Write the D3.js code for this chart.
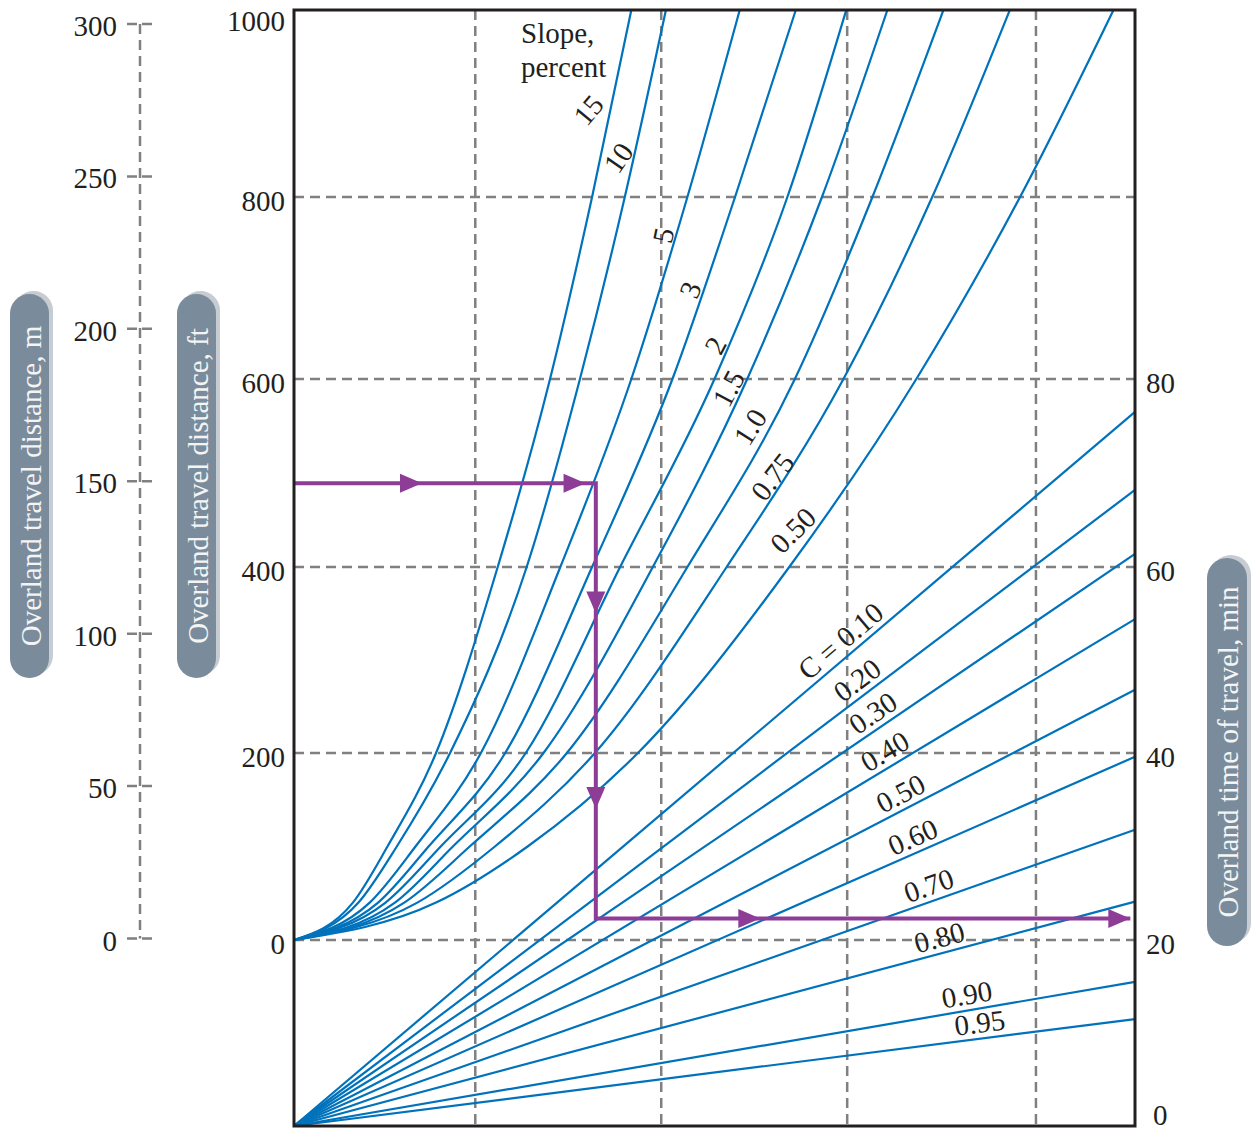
<!DOCTYPE html>
<html>
<head>
<meta charset="utf-8">
<script src="https://cdnjs.cloudflare.com/ajax/libs/d3/7.8.5/d3.min.js"></script>
<style>
  body { margin: 0; background: #fff; }
  svg { display: block; }
  text { font-family: "Liberation Serif", "Times New Roman", serif; fill: #231f20; }
</style>
</head>
<body>
<div class="chart"></div>
<script>
// slope curves (percent): x position on the unlabelled horizontal scale at each distance (ft)
var slopeNames = ["15", "10", "5", "3", "2", "1.5", "1.0", "0.75", "0.50"];
var slopeFt = [0, 40, 100, 200, 400, 600, 800, 1000];
var slopeX = [
  [0, 0.63, 1.00, 1.52, 2.18, 2.74, 3.19, 3.61],
  [0, 0.69, 1.10, 1.67, 2.49, 3.06, 3.54, 3.98],
  [0, 0.81, 1.30, 2.00, 2.85, 3.61, 4.21, 4.77],
  [0, 0.90, 1.44, 2.26, 3.19, 4.05, 4.72, 5.37],
  [0, 0.98, 1.57, 2.48, 3.49, 4.50, 5.28, 5.91],
  [0, 1.08, 1.70, 2.67, 3.84, 4.85, 5.65, 6.35],
  [0, 1.18, 1.88, 2.92, 4.21, 5.36, 6.19, 6.95],
  [0, 1.32, 2.15, 3.22, 4.63, 5.88, 6.83, 7.66],
  [0, 1.52, 2.50, 3.68, 5.30, 6.66, 7.77, 8.77]
];

// runoff coefficient lines: time (min) reached at the right edge
var cNames = ["C = 0.10", "0.20", "0.30", "0.40", "0.50", "0.60", "0.70", "0.80", "0.90", "0.95"];
var cEndMin = [76.5, 68.2, 61.4, 54.4, 46.8, 39.6, 31.8, 24.1, 15.5, 11.5];

var ftTicks = [0, 200, 400, 600, 800, 1000];
var minTicks = [0, 20, 40, 60, 80];
var mTicks = [0, 50, 100, 150, 200, 250, 300];
var gridX = [1.94, 3.93, 5.92, 7.94];

// worked example: 489 ft, slope 5 %, C = 0.30 -> about 22 min
var exampleFt = 489;
var exampleX = 3.23;
var exampleMin = 22.3;

// ---- layout ----
var W = 1255, H = 1134;
var plotL = 294, plotR = 1135, plotT = 10, plotB = 1126;
var fs = 29;
var gridColor = "#808080", blue = "#0072bc", purple = "#8e3d97", boxColor = "#7a8c9c";

var x = d3.scaleLinear().domain([0, 9]).range([plotL, plotR]);
var yFt = d3.scaleLinear().domain(ftTicks).range([940, 753, 567, 379, 197, plotT]);
var yMin = d3.scaleLinear().domain(minTicks).range([plotB, 940, 753, 567, 379]);
var yM = d3.scaleLinear().domain([0, 300]).range([938.5, 24]);

// label placement (x unit, ft, angle)
var slopeLabelPos = [[3.15, 893, -50], [3.47, 842, -55], [3.95, 758, -78], [4.24, 698, -68],
  [4.51, 637, -62], [4.65, 590, -62], [4.88, 549, -58], [5.12, 496, -52], [5.34, 439, -45]];
var cLabelX = [5.96, 6.13, 6.29, 6.41, 6.57, 6.69, 6.85, 6.95, 7.23, 7.36];

var svg = d3.select("div.chart").append("svg")
  .attr("width", W).attr("height", H);

// grid
var grid = svg.append("g")
  .attr("stroke", gridColor).attr("stroke-width", 2.5).attr("stroke-dasharray", "10,6");
grid.selectAll("line.h").data(ftTicks.filter(function (d) { return d < 1000; }))
  .enter().append("line")
  .attr("x1", plotL).attr("x2", plotR)
  .attr("y1", function (d) { return yFt(d); }).attr("y2", function (d) { return yFt(d); });
grid.selectAll("line.v").data(gridX)
  .enter().append("line")
  .attr("x1", function (d) { return x(d); }).attr("x2", function (d) { return x(d); })
  .attr("y1", plotT).attr("y2", plotB);

// slope curves
var line = d3.line()
  .x(function (d) { return x(d[0]); })
  .y(function (d) { return yFt(d[1]); })
  .curve(d3.curveMonotoneX);

svg.append("g").selectAll("path")
  .data(slopeX)
  .enter().append("path")
  .attr("d", function (xs) { return line(xs.map(function (v, i) { return [v, slopeFt[i]]; })); })
  .attr("fill", "none").attr("stroke", blue).attr("stroke-width", 2.2);

// C lines
svg.append("g").selectAll("line")
  .data(cEndMin)
  .enter().append("line")
  .attr("x1", x(0)).attr("y1", yMin(0))
  .attr("x2", x(9)).attr("y2", function (d) { return yMin(d); })
  .attr("stroke", blue).attr("stroke-width", 2.2);

// slope labels
svg.append("text").attr("x", 521).attr("y", 43).attr("font-size", fs).text("Slope,");
svg.append("text").attr("x", 521).attr("y", 77).attr("font-size", fs).text("percent");

svg.append("g").selectAll("text")
  .data(slopeNames)
  .enter().append("text")
  .attr("transform", function (d, i) {
    var p = slopeLabelPos[i];
    return "translate(" + x(p[0]) + "," + yFt(p[1]) + ") rotate(" + p[2] + ")";
  })
  .attr("text-anchor", "middle").attr("dominant-baseline", "central")
  .attr("font-size", fs).text(function (d) { return d; });

// C labels, set along their lines
svg.append("g").selectAll("text")
  .data(cNames)
  .enter().append("text")
  .attr("transform", function (d, i) {
    var x0 = x(0), y0 = yMin(0), x1 = x(9), y1 = yMin(cEndMin[i]);
    var t = (x(cLabelX[i]) - x0) / (x1 - x0);
    var px = x0 + t * (x1 - x0), py = y0 + t * (y1 - y0);
    var ang = Math.atan2(y1 - y0, x1 - x0) * 180 / Math.PI;
    return "translate(" + px + "," + py + ") rotate(" + ang + ")";
  })
  .attr("y", -6)
  .attr("text-anchor", "middle")
  .attr("font-size", fs).text(function (d) { return d; });

// worked example path
var ex = [
  [x(0), yFt(exampleFt)],
  [x(exampleX), yFt(exampleFt)],
  [x(exampleX), yMin(exampleMin)],
  [x(8.95), yMin(exampleMin)]
];
svg.append("path")
  .attr("d", d3.line()(ex))
  .attr("fill", "none").attr("stroke", purple).attr("stroke-width", 4);

// arrow heads: [x px, y px, direction]
var arrows = [
  [x(1.37), yFt(exampleFt), 0],
  [x(3.12), yFt(exampleFt), 0],
  [x(exampleX), yFt(350), 90],
  [x(exampleX), yFt(140), 90],
  [x(4.99), yMin(exampleMin), 0],
  [x(8.95), yMin(exampleMin), 0]
];
svg.append("g").selectAll("path")
  .data(arrows)
  .enter().append("path")
  .attr("d", "M0,0 L-22,-9.5 L-22,9.5 Z")
  .attr("transform", function (d) { return "translate(" + d[0] + "," + d[1] + ") rotate(" + d[2] + ")"; })
  .attr("fill", purple);

// frame
svg.append("rect")
  .attr("x", plotL).attr("y", plotT)
  .attr("width", plotR - plotL).attr("height", plotB - plotT)
  .attr("fill", "none").attr("stroke", "#231f20").attr("stroke-width", 3);

// ft axis labels
svg.append("g").selectAll("text")
  .data(ftTicks)
  .enter().append("text")
  .attr("x", 285)
  .attr("y", function (d) { return Math.max(yFt(d) + 4, 21); })
  .attr("text-anchor", "end").attr("dominant-baseline", "central")
  .attr("font-size", fs).text(function (d) { return d; });

// min axis labels
svg.append("g").selectAll("text")
  .data(minTicks)
  .enter().append("text")
  .attr("x", function (d) { return d === 0 ? 1153 : 1146; })
  .attr("y", function (d) { return Math.min(yMin(d) + 4, 1115); })
  .attr("dominant-baseline", "central")
  .attr("font-size", fs).text(function (d) { return d; });

// metre axis
var mAxis = svg.append("g")
  .attr("stroke", gridColor).attr("stroke-width", 2.5);
mAxis.append("line")
  .attr("x1", 140).attr("x2", 140)
  .attr("y1", yM(300)).attr("y2", yM(0))
  .attr("stroke-dasharray", "10,6");
mAxis.selectAll("line.t").data(mTicks)
  .enter().append("line")
  .attr("x1", 127).attr("x2", 152)
  .attr("y1", function (d) { return yM(d); }).attr("y2", function (d) { return yM(d); })
  .attr("stroke-dasharray", "10,5");
svg.append("g").selectAll("text")
  .data(mTicks)
  .enter().append("text")
  .attr("x", 117)
  .attr("y", function (d) { return yM(d) + 2; })
  .attr("text-anchor", "end").attr("dominant-baseline", "central")
  .attr("font-size", fs).text(function (d) { return d; });

// rounded title tabs
function tab(cx, cy, w, h, label) {
  var g = svg.append("g");
  g.append("rect")
    .attr("x", cx - w / 2 + 4).attr("y", cy - h / 2 - 3)
    .attr("width", w).attr("height", h).attr("rx", w / 2)
    .attr("fill", "#c7ccd2");
  g.append("rect")
    .attr("x", cx - w / 2).attr("y", cy - h / 2)
    .attr("width", w).attr("height", h).attr("rx", w / 2)
    .attr("fill", boxColor);
  g.append("text")
    .attr("transform", "translate(" + (cx + 1) + "," + cy + ") rotate(-90)")
    .attr("text-anchor", "middle").attr("dominant-baseline", "central")
    .attr("font-size", fs).style("fill", "#f4f4f4")
    .text(label);
}
tab(29.5, 486, 39, 384, "Overland travel distance, m");
tab(196.5, 486, 39, 384, "Overland travel distance, ft");
tab(1227, 752, 40, 388, "Overland time of travel, min");
</script>
</body>
</html>
